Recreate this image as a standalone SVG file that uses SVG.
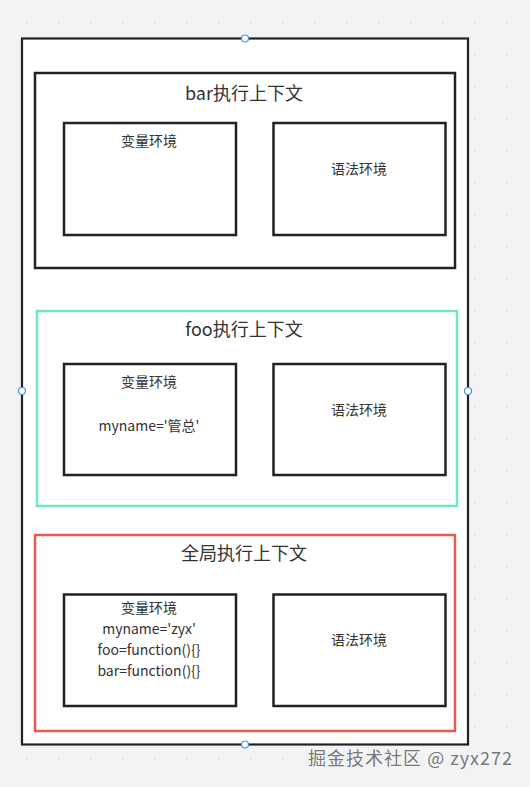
<svg xmlns="http://www.w3.org/2000/svg" width="530" height="787" viewBox="0 0 530 787">
<defs>
<pattern id="dots" x="0" y="0" width="32" height="32" patternUnits="userSpaceOnUse">
<rect x="26" y="22.5" width="1.5" height="1.5" fill="#d4d6da"/>
</pattern>
</defs>
<style>
.frame{fill:#fff;stroke:#222;stroke-width:2.2}
.ctx{fill:#fff;stroke-width:2.5}
.box{fill:#fff;stroke:#222;stroke-width:2.5}
.title{font-family:"Noto Sans CJK SC","Noto Sans",sans-serif;font-size:18px;fill:#333;text-anchor:middle}
.lbl{font-family:"Noto Sans CJK SC","Noto Sans",sans-serif;font-size:14px;fill:#333;text-anchor:middle}
.handle{fill:#fff;stroke:#4a90e2;stroke-width:1.2}
</style>
<rect width="530" height="787" fill="#f2f3f5"/>
<rect width="530" height="787" fill="url(#dots)"/>
<g id="outer">
<rect class="frame" x="22" y="38.5" width="446" height="706"/>
</g>
<g id="bar-ctx">
<rect class="ctx" x="35" y="73" width="420" height="195" stroke="#222"/>
<text class="title" x="244" y="100">bar执行上下文</text>
</g>
<g id="bar-var">
<rect class="box" x="64" y="123" width="172" height="112"/>
<text class="lbl" x="149" y="146">变量环境</text>
</g>
<g id="bar-lex">
<rect class="box" x="273.5" y="123" width="172" height="112"/>
<text class="lbl" x="359" y="174">语法环境</text>
</g>
<g id="foo-ctx">
<rect class="ctx" x="37" y="311" width="420" height="195" stroke="#6ee8c4"/>
<text class="title" x="244" y="336">foo执行上下文</text>
</g>
<g id="foo-var">
<rect class="box" x="64" y="364" width="172" height="111"/>
<text class="lbl" x="149" y="387">变量环境</text>
<text class="lbl" x="149" y="431">myname='管总'</text>
</g>
<g id="foo-lex">
<rect class="box" x="273.5" y="364" width="172" height="111"/>
<text class="lbl" x="359" y="415">语法环境</text>
</g>
<g id="global-ctx">
<rect class="ctx" x="35" y="535" width="420" height="196" stroke="#e85a4f"/>
<text class="title" x="244" y="560">全局执行上下文</text>
</g>
<g id="global-var">
<rect class="box" x="64" y="594.5" width="172" height="111.5"/>
<text class="lbl" x="149" y="613">变量环境</text>
<text class="lbl" x="149" y="634">myname='zyx'</text>
<text class="lbl" x="149" y="655">foo=function(){}</text>
<text class="lbl" x="149" y="676">bar=function(){}</text>
</g>
<g id="global-lex">
<rect class="box" x="273.5" y="594.5" width="172" height="111.5"/>
<text class="lbl" x="359" y="645">语法环境</text>
</g>
<g id="connectors"></g>
<g id="handles">
<circle class="handle" cx="245" cy="38.5" r="3.5"/>
<circle class="handle" cx="22" cy="391" r="3.5"/>
<circle class="handle" cx="468" cy="391" r="3.5"/>
<circle class="handle" cx="245" cy="744.5" r="3.5"/>
</g>
<text x="308" y="765" font-family="Noto Sans CJK SC,Noto Sans,sans-serif" font-size="18" fill="#777" stroke="#fff" stroke-width="0.6" paint-order="stroke" textLength="204">掘金技术社区 @ zyx272</text>
</svg>
